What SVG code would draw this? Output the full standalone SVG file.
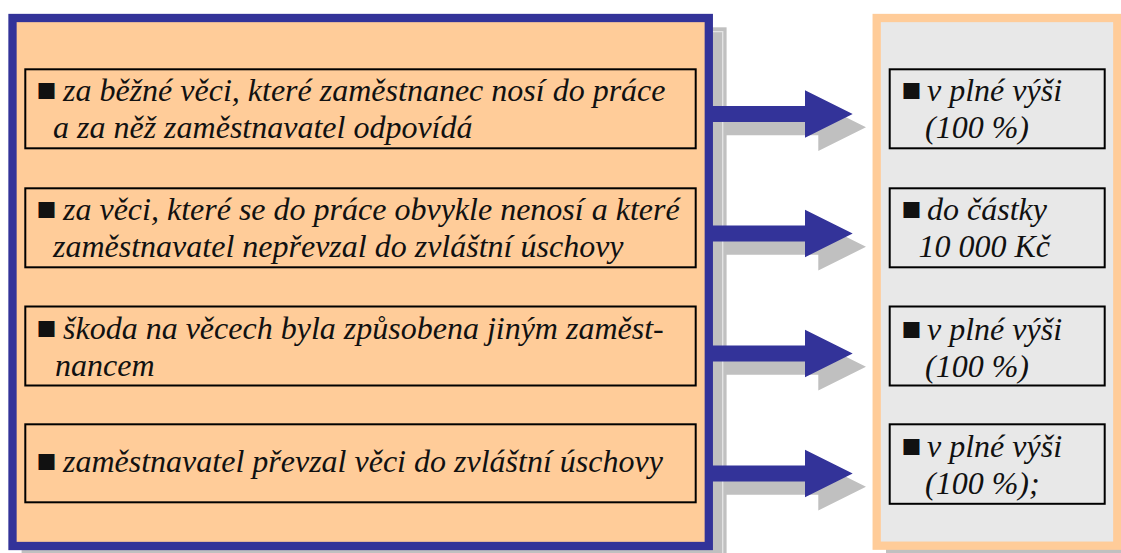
<svg xmlns="http://www.w3.org/2000/svg" width="1121" height="553" viewBox="0 0 1121 553">
<defs>
<style>
.shadow{fill:#c0c0c0}
.box{stroke:#000;stroke-width:2}
.lbox{fill:#ffcc99}
.rbox{fill:#e8e8e8}
.b{font-style:normal;font-size:33px}
</style>
<path id="arr" d="M0,-8 H93 V-23.7 L140.7,0 L93,23.7 V8 H0 Z"/>
</defs>
<rect width="1121" height="553" fill="#fff"/>
<g id="shadows">
<rect class="shadow" x="21.6" y="27.3" width="705" height="540"/>
<polyline points="712.7,31.7 722.7,31.7 722.7,553" fill="none" stroke="#e4e4e4" stroke-width="1.3"/>
<g class="shadow">
<use href="#arr" transform="translate(725.3,127.3)"/>
<use href="#arr" transform="translate(725.3,246.8)"/>
<use href="#arr" transform="translate(725.3,366.8)"/>
<use href="#arr" transform="translate(725.3,486.8)"/>
</g>
<rect class="shadow" x="886" y="31.3" width="250" height="540"/>
</g>
<g id="left-panel">
<rect x="12.5" y="18" width="696.3" height="528" fill="#ffcc99" stroke="#333399" stroke-width="8.3"/>
</g>
<g id="connectors" fill="#333399">
<use href="#arr" transform="translate(712,114)"/>
<use href="#arr" transform="translate(712,233.5)"/>
<use href="#arr" transform="translate(712,353.5)"/>
<use href="#arr" transform="translate(712,473.5)"/>
</g>
<g id="right-panel">
<rect x="876.7" y="18" width="240.6" height="527.7" fill="#e8e8e8" stroke="#ffcc99" stroke-width="8.3"/>
</g>
<g font-family="Liberation Serif, Times New Roman, serif" font-style="italic" font-size="32" fill="#111">
<g id="left1">
<rect class="box lbox" x="25.3" y="69.3" width="670.4" height="79"/>
<text y="101"><tspan class="b" x="36.5">■</tspan><tspan x="63">za běžné věci, které zaměstnanec nosí do práce</tspan><tspan x="53" y="137.5">a za něž zaměstnavatel odpovídá</tspan></text>
</g>
<g id="left2">
<rect class="box lbox" x="25.3" y="188.3" width="670.4" height="79"/>
<text y="220"><tspan class="b" x="36.5">■</tspan><tspan x="63">za věci, které se do práce obvykle nenosí a které</tspan><tspan x="53" y="256.5">zaměstnavatel nepřevzal do zvláštní úschovy</tspan></text>
</g>
<g id="left3">
<rect class="box lbox" x="25.3" y="306.5" width="670.4" height="79"/>
<text y="339"><tspan class="b" x="36.5">■</tspan><tspan x="63">škoda na věcech byla způsobena jiným zaměst-</tspan><tspan x="55" y="375.5">nancem</tspan></text>
</g>
<g id="left4">
<rect class="box lbox" x="25.3" y="424.3" width="670.4" height="78"/>
<text y="471.5"><tspan class="b" x="36.5">■</tspan><tspan x="63">zaměstnavatel převzal věci do zvláštní úschovy</tspan></text>
</g>
<g id="right1">
<rect class="box rbox" x="889.7" y="69.3" width="215" height="79"/>
<text y="101"><tspan class="b" x="901.5">■</tspan><tspan x="927">v plné výši</tspan><tspan x="925" y="137.5">(100 %)</tspan></text>
</g>
<g id="right2">
<rect class="box rbox" x="889.7" y="188.3" width="215" height="79"/>
<text y="220"><tspan class="b" x="901.5">■</tspan><tspan x="927">do částky</tspan><tspan x="918.5" y="256.5">10 000 Kč</tspan></text>
</g>
<g id="right3">
<rect class="box rbox" x="889.7" y="306.5" width="215" height="79"/>
<text y="340"><tspan class="b" x="901.5">■</tspan><tspan x="927">v plné výši</tspan><tspan x="925" y="376.5">(100 %)</tspan></text>
</g>
<g id="right4">
<rect class="box rbox" x="889.7" y="424.3" width="215" height="79.5"/>
<text y="457"><tspan class="b" x="901.5">■</tspan><tspan x="927">v plné výši</tspan><tspan x="925" y="493.5">(100 %);</tspan></text>
</g>
</g>
</svg>
